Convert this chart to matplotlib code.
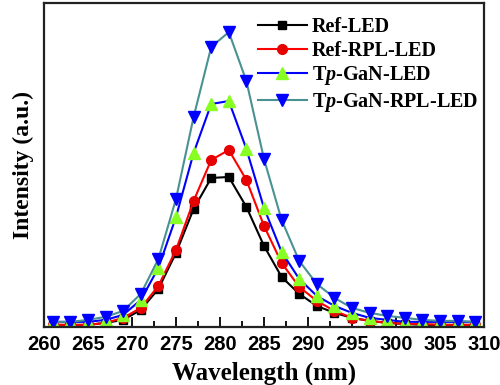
import numpy as np
import matplotlib
matplotlib.use("Agg")
import matplotlib.pyplot as plt
import matplotlib.ticker as mticker

# wavelength (nm) of the measured points
wavelength = [261, 263, 265, 267, 269, 271, 273, 275, 277, 279, 281, 283, 285,
              287, 289, 291, 293, 295, 297, 299, 301, 303, 305, 307, 309]

# intensity (a.u.)
ref_led = [2, 2, 2, 4, 7, 17, 38, 74, 118, 149, 150, 120, 81,
           50, 33, 21, 14, 9, 6, 4, 3, 2, 2, 2, 2]
ref_rpl_led = [2, 2, 2, 4, 9, 19, 41, 77, 126, 167, 177, 147, 101,
               64, 40, 26, 16, 9, 6, 4, 3, 3, 2, 2, 2]
tp_gan_led = [5, 5, 5, 7, 12, 27, 59, 110, 174, 223, 226, 178, 119,
              75, 48, 31, 21, 14, 9, 7, 5, 5, 5, 5, 5]
tp_gan_rpl_led = [5, 5, 7, 10, 16, 33, 68, 128, 210, 280, 295, 246, 168,
                  107, 66, 43, 29, 19, 14, 11, 9, 7, 6, 6, 5]

labels = ["Ref-LED", "Ref-RPL-LED", "T$\\mathbfit{p}$-GaN-LED", "T$\\mathbfit{p}$-GaN-RPL-LED"]

plt.rcParams["mathtext.fontset"] = "custom"
plt.rcParams["mathtext.bfit"] = "Liberation Serif:bold:italic"

fig = plt.figure(figsize=(5.0, 3.85), dpi=100)
ax = fig.add_axes([0.088, 0.151, 0.88, 0.841])

ax.plot(wavelength, ref_led, color="black", lw=1.5, marker="s", ms=6,
        mfc="black", mec="black", label=labels[0])
ax.plot(wavelength, ref_rpl_led, color="#ff0000", lw=1.5, marker="o", ms=7,
        mfc="#e60000", mec="#e60000", label=labels[1])
ax.plot(wavelength, tp_gan_led, color="#0000ff", lw=1.5, marker="^", ms=8.5,
        mfc="#88ff22", mec="#88ff22", label=labels[2])
ax.plot(wavelength, tp_gan_rpl_led, color="#4a9292", lw=1.5, marker="v", ms=8.5,
        mfc="#0000ff", mec="#0000ff", label=labels[3])

ax.set_xlim(260, 310)
ax.set_ylim(0, 324)
ax.xaxis.set_major_locator(mticker.MultipleLocator(5))
ax.xaxis.set_minor_locator(mticker.MultipleLocator(2.5))
ax.set_yticks([])
ax.tick_params(axis="x", which="major", direction="in", length=7, width=1.3,
               pad=6, labelsize=14.5)
ax.tick_params(axis="x", which="minor", direction="in", length=4, width=1.3)
for lab in ax.get_xticklabels():
    lab.set_fontfamily("Liberation Sans")
    lab.set_fontweight("bold")

for sp in ax.spines.values():
    sp.set_linewidth(1.6)
    sp.set_color("#222222")

ax.set_xlabel("Wavelength (nm)", fontfamily="Liberation Serif",
              fontweight="bold", fontsize=18, labelpad=5)
ax.set_ylabel("Intensity (a.u.)", fontfamily="Liberation Serif",
              fontweight="bold", fontsize=17, labelpad=7)

leg = ax.legend(loc="upper left", bbox_to_anchor=(0.455, 1.0), frameon=False,
                prop={"family": "Liberation Serif", "weight": "bold", "size": 14.5},
                handlelength=2.4, handletextpad=0.25, labelspacing=0.18,
                borderaxespad=0.3)

plt.savefig("out.png", dpi=100)
plt.close()
